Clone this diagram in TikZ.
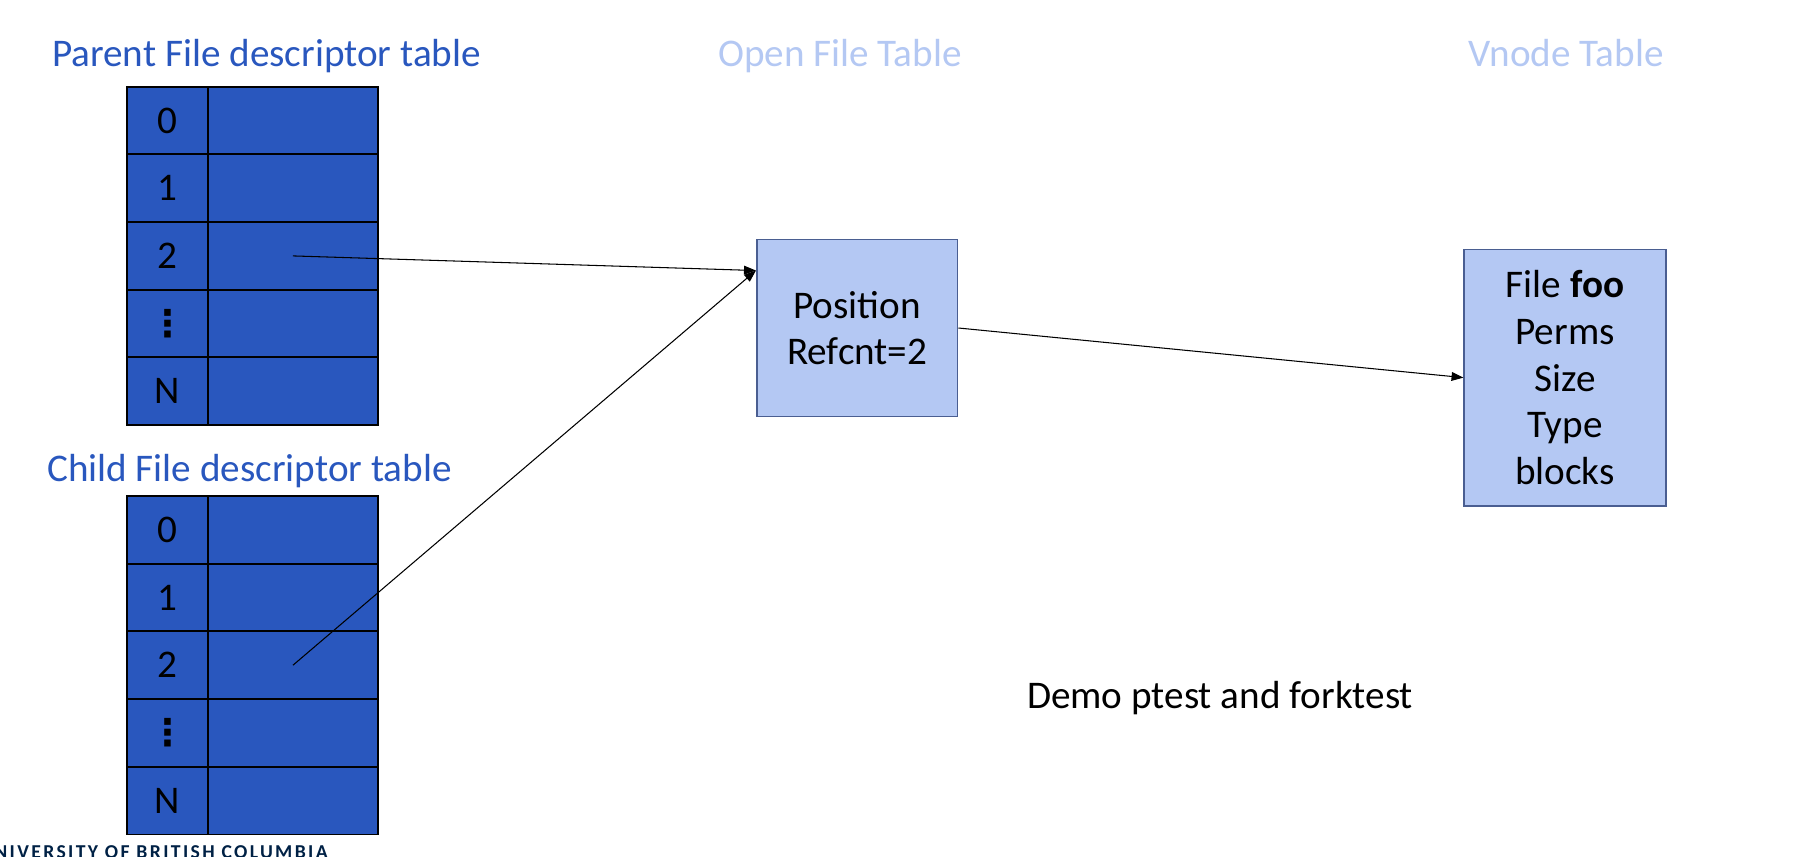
\documentclass[tikz,border=0pt]{standalone}
\usepackage{fontspec}
\setmainfont{Carlito}
\newfontfamily\dotsfont{DejaVu Sans}
\usepackage{tikz}
\usetikzlibrary{arrows.meta,positioning,calc}

\definecolor{fdblue}{RGB}{41,87,190}
\definecolor{paleblue}{RGB}{180,200,243}
\definecolor{boxedge}{RGB}{74,94,145}
\definecolor{ubcnavy}{RGB}{0,33,69}
% stacked dots for the "..." row
\newcommand{\fdvdots}{{\dotsfont\fontsize{21}{22}\selectfont\bfseries ⋮}}

\begin{document}
\begin{tikzpicture}[x=0.02cm, y=-0.02cm, font=\fontsize{22.3}{26.5}\selectfont,
    >={Triangle[length=6.8pt,width=5pt]},
    fdnum/.style={draw=black, line width=1.1pt, fill=fdblue, anchor=north west,
        minimum width=1.62cm, minimum height=1.354cm, inner sep=0pt},
    fdslot/.style={fdnum, minimum width=3.4cm},
    tabletitle/.style={text=fdblue, anchor=base},
    ghosttitle/.style={text=paleblue, anchor=base},
    kbox/.style={draw=boxedge, line width=0.9pt, fill=paleblue, align=center, inner sep=0pt},
    ptr/.style={->, line width=0.6pt}]
    \useasboundingbox (0,0) rectangle (1798,856);

    % parent descriptor table
    \node[tabletitle] (ptitle) at (266.5,66.7) {Parent File descriptor table};
    \foreach \i/\lab in {0/0, 1/1, 2/2, 3/\fdvdots, 4/N} {
        \node[fdnum] (pnum\i) at (126,85.7+\i*67.7) {\lab};
        \node[fdslot] (pslot\i) at (207,85.7+\i*67.7) {};
    }

    % child descriptor table
    \node[tabletitle] (ctitle) at (249.5,481.7) {Child File descriptor table};
    \foreach \i/\lab in {0/0, 1/1, 2/2, 3/\fdvdots, 4/N} {
        \node[fdnum] (cnum\i) at (126,495+\i*67.7) {\lab};
        \node[fdslot] (cslot\i) at (207,495+\i*67.7) {};
    }

    \node[ghosttitle] (otitle) at (840,66) {Open File Table};
    \node[ghosttitle] (vtitle) at (1566,66) {Vnode Table};

    \node[kbox, minimum width=4.02cm, minimum height=3.548cm] (ofile) at (857.2,328)
        {Position\\Refcnt=2};
    \node[kbox, minimum width=4.03cm, minimum height=5.13cm] (vnode) at (1565,377.6)
        {File \textbf{foo}\\Perms\\Size\\Type\\blocks};

    \coordinate (ofin) at ($(ofile.north west)+(0,32)$);
    \draw[ptr] (pslot2.center) -- (ofin);
    \draw[ptr] (cslot2.center) -- (ofin);
    \draw[ptr] (ofile.east) -- (vnode.west);

    \node[anchor=base] (demo) at (1220,708) {Demo ptest and forktest};
    \node[anchor=base east, text=ubcnavy, inner sep=0pt,
        font=\fontsize{11.2}{12}\selectfont\bfseries\addfontfeature{LetterSpace=12}]
        (ubc) at (328,858) {UNIVERSITY OF BRITISH COLUMBIA};
\end{tikzpicture}
\end{document}
